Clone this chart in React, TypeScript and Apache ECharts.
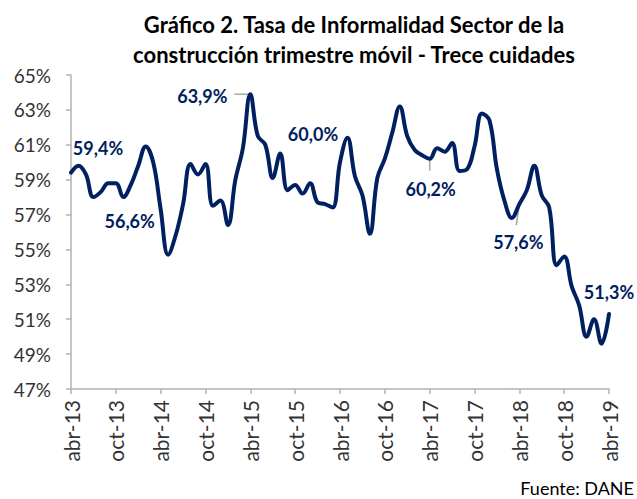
import React, { useEffect, useRef } from 'react';
import * as echarts from 'echarts';

const monthNames = ['ene', 'feb', 'mar', 'abr', 'may', 'jun', 'jul', 'ago', 'sep', 'oct', 'nov', 'dic'];
const startMonth = 3; // abr
const startYear = 13;

const informalidad = [
  59.4, 59.8, 59.3, 58.0, 58.3, 58.8, 58.8, 58.0, 58.7, 59.8, 60.9, 60.0,
  57.3, 54.7, 55.8, 57.6, 59.9, 59.3, 59.9, 57.5, 57.8, 56.4, 59.0, 60.8,
  63.9, 61.5, 61.0, 59.1, 60.5, 58.4, 58.7, 58.2, 58.8, 57.7, 57.6, 57.4,
  60.0, 61.4, 59.2, 58.1, 55.9, 59.1, 60.2, 61.7, 63.2, 61.5, 60.7, 60.4,
  60.2, 60.8, 60.6, 61.1, 59.5, 59.6, 60.9, 62.8, 62.4, 59.6, 57.8, 56.8,
  57.6, 58.4, 59.8, 58.1, 57.4, 54.1, 54.6, 52.9, 51.8, 50.0, 51.0, 49.6,
  51.3,
];

const categories = informalidad.map((_, i) => {
  const m = (startMonth + i) % 12;
  const y = startYear + Math.floor((startMonth + i) / 12);
  return `${monthNames[m]}-${y}`;
});

const yMin = 47;
const yMax = 65;
const yStep = 2;

const annotIndex = [0, 12, 24, 36, 48, 60, 72];
const annotText = ['59,4%', '56,6%', '63,9%', '60,0%', '60,2%', '57,6%', '51,3%'];
const annotOffset = [[27, -25], [-31, 12], [-48, 2], [-27, -28], [1, 30], [-1, 38], [0, -22]];

const leaderIndex = [24, 48, 60];
const leaderEnd = [[-16, 0], [0, 12], [-3, 21]];

const titleText = 'Gráfico 2. Tasa de Informalidad Sector de la\nconstrucción trimestre móvil - Trece cuidades';
const sourceText = 'Fuente: DANE';

const NAVY = '#002060';
const FONT = 'Lato, "Open Sans", sans-serif';

export default function App() {
  const ref = useRef<HTMLDivElement>(null);
  useEffect(() => {
    document.body.style.margin = '0';
    if (!ref.current) return;
    const chart = echarts.init(ref.current, undefined, { renderer: 'svg' });
    chart.setOption({
      animation: false,
      title: {
        text: titleText,
        left: 349,
        top: 4,
        textAlign: 'center',
        textStyle: { fontFamily: FONT, fontSize: 22, fontWeight: 'bold', color: '#000', lineHeight: 30 },
      },
      grid: { left: 71, right: 28, top: 75, bottom: 110, containLabel: false },
      xAxis: {
        type: 'category',
        data: categories,
        boundaryGap: false,
        axisLine: { lineStyle: { color: '#B3B3B3', width: 1.5 } },
        axisTick: { show: true, interval: 5, length: 5, lineStyle: { color: '#B3B3B3', width: 1.5 } },
        axisLabel: {
          interval: 5,
          rotate: 90,
          margin: 11,
          fontFamily: FONT,
          fontSize: 21,
          color: '#333',
        },
        splitLine: { show: false },
      },
      yAxis: {
        type: 'value',
        min: yMin,
        max: yMax,
        interval: yStep,
        axisLine: { show: true, lineStyle: { color: '#B3B3B3', width: 1.5 } },
        axisTick: { show: true, length: 5, lineStyle: { color: '#B3B3B3', width: 1.5 } },
        axisLabel: {
          formatter: '{value}%',
          margin: 20,
          fontFamily: FONT,
          fontSize: 19,
          color: '#333',
        },
        splitLine: { show: false },
      },
      series: [
        {
          type: 'line',
          data: informalidad,
          smooth: 0.4,
          showSymbol: false,
          symbol: 'none',
          lineStyle: { color: NAVY, width: 4, cap: 'round', join: 'round' },
        },
      ],
    });

    const graphics: any[] = [];
    leaderIndex.forEach((idx, k) => {
      const p = chart.convertToPixel({ xAxisIndex: 0, yAxisIndex: 0 }, [idx, informalidad[idx]]) as number[];
      graphics.push({
        type: 'line',
        shape: { x1: p[0], y1: p[1], x2: p[0] + leaderEnd[k][0], y2: p[1] + leaderEnd[k][1] },
        style: { stroke: '#A6A6A6', lineWidth: 1.5 },
        z: 1,
      });
    });
    annotIndex.forEach((idx, k) => {
      const p = chart.convertToPixel({ xAxisIndex: 0, yAxisIndex: 0 }, [idx, informalidad[idx]]) as number[];
      graphics.push({
        type: 'text',
        x: p[0] + annotOffset[k][0],
        y: p[1] + annotOffset[k][1],
        style: {
          text: annotText[k],
          fill: NAVY,
          font: `bold 18px ${FONT}`,
          textAlign: 'center',
          textVerticalAlign: 'middle',
        },
        z: 10,
      });
    });
    graphics.push({
      type: 'text',
      right: 3,
      bottom: 2,
      style: { text: sourceText, fill: '#000', font: `18px ${FONT}` },
    });
    chart.setOption({ graphic: graphics });

    return () => chart.dispose();
  }, []);
  return <div ref={ref} style={{ width: 637, height: 499 }} />;
}
